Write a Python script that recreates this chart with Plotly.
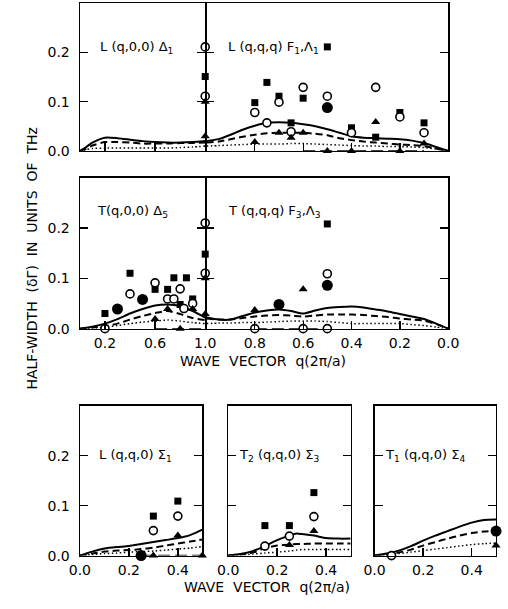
import plotly.graph_objects as go

W, H = 508, 609

# ---------------- data ----------------
# Top panel: longitudinal, left part L(q,0,0) Delta1
tl_q = [0, 0.05, 0.1, 0.2, 0.3, 0.4, 0.5, 0.6, 0.7, 0.8, 0.9, 1.0]
tl_solid = [0, 0.008, 0.017, 0.027, 0.026, 0.023, 0.020, 0.018, 0.017, 0.017, 0.018, 0.020]
tl_dash = [0, 0.005, 0.011, 0.018, 0.018, 0.017, 0.015, 0.015, 0.015, 0.016, 0.016, 0.017]
tl_dot = [0, 0.003, 0.005, 0.006, 0.006, 0.006, 0.006, 0.006, 0.006, 0.007, 0.008, 0.010]
tl_sq_q, tl_sq_v = [1.0], [0.151]
tl_ci_q, tl_ci_v = [1.0, 1.0], [0.211, 0.111]
tl_tr_q, tl_tr_v = [1.0, 1.0], [0.100, 0.030]

# Top panel: right part L(q,q,q) F1, Lambda1
tr_q = [1.0, 0.95, 0.9, 0.85, 0.8, 0.75, 0.7, 0.65, 0.6, 0.55, 0.5, 0.45, 0.4, 0.35, 0.3,
        0.25, 0.2, 0.15, 0.1, 0.05, 0.0]
tr_solid = [0.020, 0.024, 0.033, 0.043, 0.051, 0.057, 0.058, 0.057, 0.054, 0.050, 0.044, 0.037,
            0.030, 0.027, 0.026, 0.025, 0.024, 0.021, 0.016, 0.008, 0]
tr_dash = [0.017, 0.019, 0.024, 0.029, 0.033, 0.036, 0.037, 0.037, 0.037, 0.035, 0.032, 0.026,
           0.022, 0.019, 0.017, 0.015, 0.013, 0.012, 0.010, 0.005, 0]
tr_dot = [0.010, 0.011, 0.012, 0.013, 0.014, 0.014, 0.014, 0.015, 0.015, 0.014, 0.013, 0.012,
          0.011, 0.010, 0.010, 0.009, 0.009, 0.008, 0.007, 0.004, 0]
tr_sq_q = [0.8, 0.75, 0.7, 0.65, 0.6, 0.5, 0.4, 0.3, 0.2, 0.1]
tr_sq_v = [0.098, 0.139, 0.111, 0.057, 0.107, 0.211, 0.047, 0.028, 0.078, 0.057]
tr_ci_q = [0.8, 0.75, 0.7, 0.65, 0.6, 0.5, 0.4, 0.3, 0.2, 0.1]
tr_ci_v = [0.078, 0.057, 0.099, 0.039, 0.129, 0.111, 0.037, 0.129, 0.069, 0.037]
tr_tr_q = [0.8, 0.7, 0.65, 0.6, 0.5, 0.4, 0.3, 0.2, 0.1]
tr_tr_v = [0.018, 0.037, 0.027, 0.037, 0.0, 0.0, 0.059, 0.0, 0.015]
tr_bd_q, tr_bd_v = [0.5], [0.088]
tr_zero_q, tr_zero_v = [0.6, 0.1], [0.0, 0.0]

# Middle panel: transverse, left part T(q,0,0) Delta5
ml_q = [0, 0.1, 0.2, 0.3, 0.4, 0.5, 0.6, 0.7, 0.8, 0.9, 1.0]
ml_solid = [0, 0.004, 0.010, 0.019, 0.030, 0.039, 0.046, 0.048, 0.045, 0.035, 0.022]
ml_dash = [0, 0.002, 0.005, 0.010, 0.018, 0.025, 0.031, 0.035, 0.029, 0.021, 0.017]
ml_dot = [0, 0.001, 0.003, 0.006, 0.010, 0.013, 0.015, 0.017, 0.015, 0.012, 0.010]
ml_sq_q = [0.2, 0.4, 0.6, 0.7, 0.75, 0.8, 0.85, 0.9, 1.0]
ml_sq_v = [0.030, 0.110, 0.078, 0.078, 0.101, 0.048, 0.101, 0.059, 0.148]
ml_ci_q = [0.2, 0.4, 0.6, 0.7, 0.75, 0.8, 0.83, 0.9, 1.0, 1.0]
ml_ci_v = [0.0, 0.069, 0.091, 0.059, 0.059, 0.079, 0.040, 0.050, 0.210, 0.110]
ml_tr_q = [0.6, 0.7, 0.8, 0.9, 1.0, 1.0]
ml_tr_v = [0.019, 0.039, 0.0, 0.039, 0.100, 0.029]
ml_bd_q, ml_bd_v = [0.3, 0.5], [0.039, 0.058]
ml_zero_q, ml_zero_v = [0.6, 1.0], [0.0, 0.0]

# Middle panel: right part T(q,q,q) F3, Lambda3
mr_q = [1.0, 0.95, 0.9, 0.85, 0.8, 0.75, 0.7, 0.65, 0.6, 0.55, 0.5, 0.45, 0.4, 0.35, 0.3,
        0.25, 0.2, 0.15, 0.1, 0.05, 0.0]
mr_solid = [0.022, 0.018, 0.018, 0.025, 0.032, 0.036, 0.038, 0.035, 0.030, 0.036, 0.041, 0.043,
            0.044, 0.042, 0.038, 0.034, 0.029, 0.024, 0.019, 0.010, 0]
mr_dash = [0.020, 0.018, 0.018, 0.021, 0.024, 0.026, 0.027, 0.026, 0.024, 0.026, 0.028, 0.028,
           0.028, 0.027, 0.025, 0.023, 0.020, 0.018, 0.016, 0.009, 0]
mr_dot = [0.010, 0.011, 0.011, 0.012, 0.012, 0.013, 0.014, 0.015, 0.015, 0.015, 0.014, 0.012,
          0.010, 0.010, 0.010, 0.010, 0.010, 0.008, 0.006, 0.003, 0]
mr_sq_q, mr_sq_v = [0.5], [0.208]
mr_ci_q, mr_ci_v = [0.8, 0.6, 0.5, 0.5], [0.0, 0.0, 0.0, 0.109]
mr_tr_q, mr_tr_v = [0.8, 0.6], [0.037, 0.078]
mr_bd_q, mr_bd_v = [0.7, 0.5], [0.048, 0.086]
mr_zero_q, mr_zero_v = [0.8, 0.5], [0.0, 0.0]

# Bottom panels (q,q,0)
b_q = [0, 0.05, 0.1, 0.15, 0.2, 0.25, 0.3, 0.35, 0.4, 0.45, 0.5]
b1_solid = [0, 0.008, 0.014, 0.017, 0.019, 0.023, 0.027, 0.031, 0.035, 0.041, 0.052]
b1_dash = [0, 0.004, 0.008, 0.010, 0.011, 0.013, 0.016, 0.020, 0.024, 0.028, 0.032]
b1_dot = [0, 0.002, 0.004, 0.005, 0.007, 0.008, 0.009, 0.011, 0.013, 0.015, 0.018]
b1_sq_q, b1_sq_v = [0.3, 0.4], [0.079, 0.109]
b1_ci_q, b1_ci_v = [0.3, 0.4], [0.050, 0.079]
b1_tr_q, b1_tr_v = [0.4, 0.3, 0.5], [0.040, 0.0, 0.0]
b1_bd_q, b1_bd_v = [0.25], [0.0]
b1_zero_q, b1_zero_v = [0.25, 0.5], [0.0, 0.0]

b2_q = [0, 0.05, 0.1, 0.15, 0.2, 0.25, 0.28, 0.3, 0.35, 0.4, 0.45, 0.5]
b2_solid = [0, 0.003, 0.009, 0.019, 0.031, 0.040, 0.044, 0.043, 0.040, 0.035, 0.034, 0.034]
b2_dash = [0, 0.002, 0.006, 0.015, 0.020, 0.022, 0.023, 0.023, 0.024, 0.024, 0.024, 0.024]
b2_dot = [0, 0.001, 0.003, 0.005, 0.007, 0.009, 0.011, 0.012, 0.012, 0.012, 0.012, 0.012]
b2_sq_q, b2_sq_v = [0.15, 0.25, 0.35], [0.060, 0.060, 0.126]
b2_ci_q, b2_ci_v = [0.15, 0.25, 0.35], [0.019, 0.039, 0.078]
b2_tr_q, b2_tr_v = [0.25, 0.35], [0.021, 0.049]

b3_solid = [0, 0.004, 0.010, 0.019, 0.030, 0.040, 0.049, 0.058, 0.066, 0.071, 0.072]
b3_dash = [0, 0.002, 0.006, 0.012, 0.020, 0.027, 0.034, 0.040, 0.045, 0.048, 0.050]
b3_dot = [0, 0.001, 0.004, 0.007, 0.010, 0.013, 0.016, 0.019, 0.022, 0.024, 0.025]
b3_ci_q, b3_ci_v = [0.07], [0.0]
b3_tr_q, b3_tr_v = [0.5], [0.020]
b3_bd_q, b3_bd_v = [0.5], [0.049]

y_ticks = [0.0, 0.1, 0.2]
y_ticktext = ["0.0", "0.1", "0.2"]
xl_ticks = [0.2, 0.6, 1.0]
xr_ticks = [0.8, 0.6, 0.4, 0.2, 0.0]
xb_ticks = [0.0, 0.2, 0.4]

# ---------------- figure ----------------
FONT = "DejaVu Sans"
BLACK = "black"
LW = 1.3
fig = go.Figure()


def ax(i):
    return ("x" if i == 1 else "x%d" % i), ("y" if i == 1 else "y%d" % i)


def curves(i, q, solid, dash, dot):
    xa, ya = ax(i)
    for vals, d, w in ((solid, "solid", 2), (dash, "7px,4px", 2), (dot, "1.5px,2.5px", 1.5)):
        fig.add_trace(go.Scatter(x=q, y=vals, mode="lines", xaxis=xa, yaxis=ya,
                                 line=dict(color=BLACK, width=w, dash=d, shape="spline", smoothing=0.6),
                                 showlegend=False, hoverinfo="skip", cliponaxis=False))


def zero_line(i, q, v):
    xa, ya = ax(i)
    fig.add_trace(go.Scatter(x=q, y=v, mode="lines", xaxis=xa, yaxis=ya,
                             line=dict(color=BLACK, width=1.5, dash="12px,5px"),
                             showlegend=False, hoverinfo="skip", cliponaxis=False))


def points(i, q, v, kind):
    xa, ya = ax(i)
    if kind == "sq":
        m = dict(symbol="square", size=7, color=BLACK)
    elif kind == "ci":
        m = dict(symbol="circle", size=8, color="white", line=dict(color=BLACK, width=1.6))
    elif kind == "tr":
        m = dict(symbol="triangle-up", size=8, color=BLACK)
    else:
        m = dict(symbol="circle", size=11, color=BLACK)
    fig.add_trace(go.Scatter(x=q, y=v, mode="markers", xaxis=xa, yaxis=ya, marker=m,
                             showlegend=False, hoverinfo="skip", cliponaxis=False))


# panel 1: top-left, 2: top-right, 3: mid-left, 4: mid-right, 5-7: bottom
curves(1, tl_q, tl_solid, tl_dash, tl_dot)
curves(2, tr_q, tr_solid, tr_dash, tr_dot)
curves(3, ml_q, ml_solid, ml_dash, ml_dot)
curves(4, mr_q, mr_solid, mr_dash, mr_dot)
curves(5, b_q, b1_solid, b1_dash, b1_dot)
curves(6, b2_q, b2_solid, b2_dash, b2_dot)
curves(7, b_q, b3_solid, b3_dash, b3_dot)

zero_line(2, tr_zero_q, tr_zero_v)
zero_line(3, ml_zero_q, ml_zero_v)
zero_line(4, mr_zero_q, mr_zero_v)
zero_line(5, b1_zero_q, b1_zero_v)

points(1, tl_sq_q, tl_sq_v, "sq"); points(1, tl_ci_q, tl_ci_v, "ci"); points(1, tl_tr_q, tl_tr_v, "tr")
points(2, tr_sq_q, tr_sq_v, "sq"); points(2, tr_ci_q, tr_ci_v, "ci"); points(2, tr_tr_q, tr_tr_v, "tr")
points(2, tr_bd_q, tr_bd_v, "bd")
points(3, ml_sq_q, ml_sq_v, "sq"); points(3, ml_ci_q, ml_ci_v, "ci"); points(3, ml_tr_q, ml_tr_v, "tr")
points(3, ml_bd_q, ml_bd_v, "bd")
points(4, mr_sq_q, mr_sq_v, "sq"); points(4, mr_ci_q, mr_ci_v, "ci"); points(4, mr_tr_q, mr_tr_v, "tr")
points(4, mr_bd_q, mr_bd_v, "bd")
points(5, b1_sq_q, b1_sq_v, "sq"); points(5, b1_ci_q, b1_ci_v, "ci"); points(5, b1_tr_q, b1_tr_v, "tr")
points(5, b1_bd_q, b1_bd_v, "bd")
points(6, b2_sq_q, b2_sq_v, "sq"); points(6, b2_ci_q, b2_ci_v, "ci"); points(6, b2_tr_q, b2_tr_v, "tr")
points(7, b3_ci_q, b3_ci_v, "ci"); points(7, b3_tr_q, b3_tr_v, "tr"); points(7, b3_bd_q, b3_bd_v, "bd")


def px(v):
    return v / W


def py(v):
    return 1 - v / H


# the right half starts one line-width later so both frame lines on the divider coincide
X_L = [px(72), px(203)]
X_R = [px(203 + LW), px(457)]
Y_T = [py(153), py(3)]
Y_M = [py(333), py(180)]
Y_B = [py(563), py(411)]
X_B = [[px(72), px(200)], [px(227), px(355)], [px(380), px(507)]]

tickfont = dict(family=FONT, size=14, color=BLACK)
common = dict(showline=True, linecolor=BLACK, linewidth=LW, ticks="inside", ticklen=8,
              tickwidth=LW, tickcolor=BLACK, showgrid=False, zeroline=False, tickfont=tickfont,
              fixedrange=True)

layout = dict(width=W, height=H, autosize=False, margin=dict(l=0, r=0, t=0, b=0, pad=0),
              paper_bgcolor="white", plot_bgcolor="white", showlegend=False)

spec = [
    # (index, xdomain, ydomain, xrange, xticks, show x labels, show y labels)
    (1, X_L, Y_T, [0, 1], xl_ticks, False, True),
    (2, X_R, Y_T, [1, 0], xr_ticks, False, False),
    (3, X_L, Y_M, [0, 1], xl_ticks, True, True),
    (4, X_R, Y_M, [1, 0], xr_ticks, True, False),
    (5, X_B[0], Y_B, [0, 0.5], xb_ticks, True, True),
    (6, X_B[1], Y_B, [0, 0.5], xb_ticks, True, False),
    (7, X_B[2], Y_B, [0, 0.5], xb_ticks, True, False),
]
for i, xd, yd, xr, xt, sxl, syl in spec:
    xk = "xaxis" if i == 1 else "xaxis%d" % i
    yk = "yaxis" if i == 1 else "yaxis%d" % i
    ya = "y" if i == 1 else "y%d" % i
    xa = "x" if i == 1 else "x%d" % i
    layout[xk] = dict(common, domain=xd, range=xr, anchor=ya, mirror=True,
                      tickmode="array", tickvals=xt, ticktext=["%.1f" % t for t in xt],
                      showticklabels=sxl, ticklabelstandoff=1)
    layout[yk] = dict(common, domain=yd, range=[0, 0.3], anchor=xa, mirror="ticks",
                      tickmode="array", tickvals=y_ticks, ticktext=y_ticktext,
                      showticklabels=syl, ticklabelstandoff=6)

fig.update_layout(**layout)

lab = dict(family=FONT, size=13, color=BLACK)
annots = [
    ("L (q,0,0) Δ<sub>1</sub>", 91, 48),
    ("L (q,q,q) F<sub>1</sub>,Λ<sub>1</sub>", 225, 48),
    ("T(q,0,0) Δ<sub>5</sub>", 88, 214),
    ("T (q,q,q) F<sub>3</sub>,Λ<sub>3</sub>", 225, 214),
    ("L (q,q,0) Σ<sub>1</sub>", 90, 462),
    ("T<sub>2</sub> (q,q,0) Σ<sub>3</sub>", 236, 462),
    ("T<sub>1</sub> (q,q,0) Σ<sub>4</sub>", 389, 462),
]
for t, x, y in annots:
    fig.add_annotation(text=t, x=px(x), y=py(y), xref="paper", yref="paper", xanchor="left",
                       yanchor="middle", showarrow=False, font=lab)

axlab = dict(family=FONT, size=14, color=BLACK)
fig.add_annotation(text="WAVE  VECTOR  q(2π/a)", x=px(263), y=py(366), xref="paper", yref="paper",
                   showarrow=False, font=axlab, xanchor="center", yanchor="middle")
fig.add_annotation(text="WAVE  VECTOR  q(2π/a)", x=px(268), y=py(595), xref="paper", yref="paper",
                   showarrow=False, font=axlab, xanchor="center", yanchor="middle")
fig.add_annotation(text="HALF-WIDTH  (δΓ)  IN  UNITS  OF  THz", x=px(22), y=py(262),
                   xref="paper", yref="paper", showarrow=False, font=axlab, textangle=-90,
                   xanchor="center", yanchor="middle")

fig.write_html(
    "out.html",
    config={"displayModeBar": False, "responsive": False, "staticPlot": True},
    post_script="document.body.style.margin='0';document.body.style.padding='0';"
                "document.documentElement.style.overflow='hidden';",
)
